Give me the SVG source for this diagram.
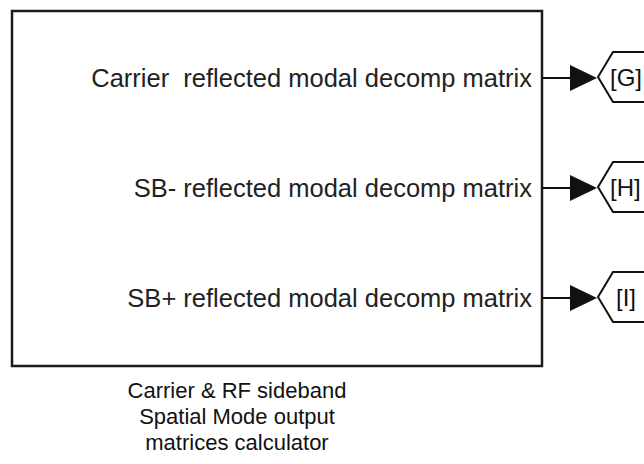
<svg xmlns="http://www.w3.org/2000/svg" width="644" height="464" viewBox="0 0 644 464">
<defs>
<style>
.blk{fill:#fff;stroke:#1a1a1a;stroke-width:2.5}
.lbl{font-family:"Liberation Sans",Arial,sans-serif;font-size:25.5px;fill:#222}
.ttl{font-family:"Liberation Sans",Arial,sans-serif;font-size:22px;fill:#111;text-anchor:middle}
.wire{stroke:#111;stroke-width:2;fill:none}
.tag{fill:#fff;stroke:#111;stroke-width:2}
.tagt{font-family:"Liberation Sans",Arial,sans-serif;font-size:24px;fill:#111}
</style>
</defs>
<g id="calculator">
<rect class="blk" x="12" y="11" width="530" height="355"/>
<text class="lbl" x="532" y="87" text-anchor="end" xml:space="preserve">Carrier  reflected modal decomp matrix</text>
<text class="lbl" x="532" y="197" text-anchor="end">SB- reflected modal decomp matrix</text>
<text class="lbl" x="532" y="307" text-anchor="end">SB+ reflected modal decomp matrix</text>
<text class="ttl" x="237" y="398">Carrier &amp; RF sideband</text>
<text class="ttl" x="237" y="424">Spatial Mode output</text>
<text class="ttl" x="237" y="450">matrices calculator</text>
</g>
<g id="connectors">
<line class="wire" x1="542" y1="78" x2="572" y2="78"/>
<path d="M570,65 L597,78 L570,91 Z" fill="#111"/>
<line class="wire" x1="542" y1="188" x2="572" y2="188"/>
<path d="M570,175 L597,188 L570,201 Z" fill="#111"/>
<line class="wire" x1="542" y1="298" x2="572" y2="298"/>
<path d="M570,285 L597,298 L570,311 Z" fill="#111"/>
</g>
<g id="gotoG">
<path class="tag" d="M660,52 L613,52 L598,77 L613,102 L660,102"/>
<text class="tagt" x="610" y="86">[G]</text>
</g>
<g id="gotoH">
<path class="tag" d="M660,162 L613,162 L598,187 L613,212 L660,212"/>
<text class="tagt" x="610" y="196">[H]</text>
</g>
<g id="gotoI">
<path class="tag" d="M660,272 L613,272 L598,297 L613,322 L660,322"/>
<text class="tagt" x="616" y="306">[I]</text>
</g>
</svg>
